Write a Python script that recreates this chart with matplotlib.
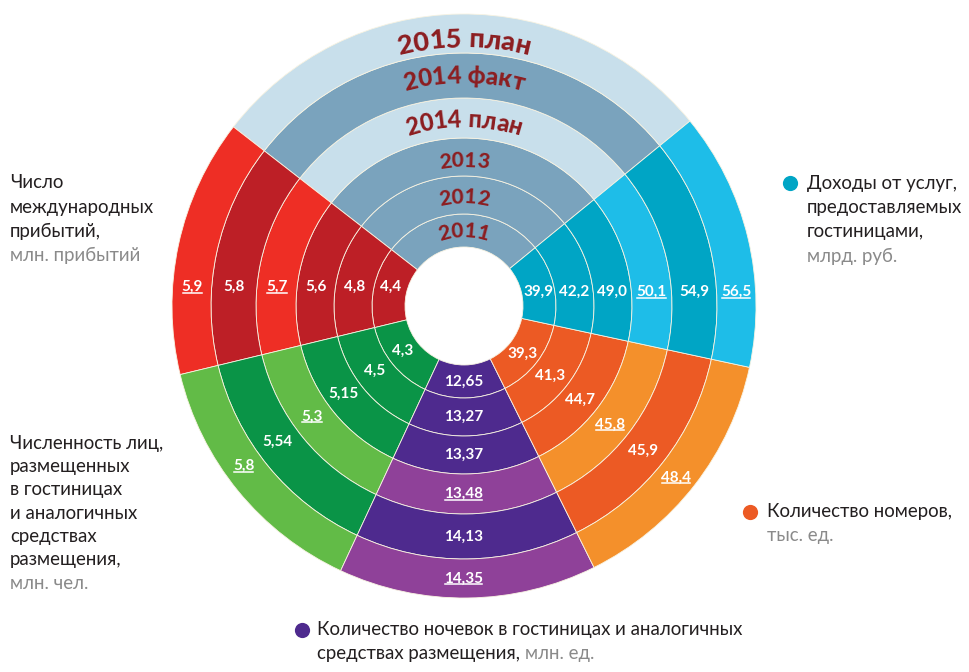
import numpy as np
import matplotlib
matplotlib.use("Agg")
import matplotlib.pyplot as plt

plt.rcParams['font.family'] = ['Lato', 'DejaVu Sans']

# data
years = ['2011', '2012', '2013', '2014 план', '2014 факт', '2015 план']
is_plan = [False, False, False, True, False, True]
arrivals = [4.4, 4.8, 5.6, 5.7, 5.8, 5.9]          # red
guests = [4.3, 4.5, 5.15, 5.3, 5.54, 5.8]          # green
nights = [12.65, 13.27, 13.37, 13.48, 14.13, 14.35]  # purple
rooms = [39.3, 41.3, 44.7, 45.8, 45.9, 48.4]       # orange
revenue = [39.9, 42.2, 49.0, 50.1, 54.9, 56.5]     # cyan

# sector order counterclockwise from the top block: years, red, green, purple, orange, cyan
shares = [2, 1, 1, 1, 1, 1]
dark = ['#7aa3bd', '#bd1f26', '#0a9447', '#4e2a8e', '#ec5a24', '#00a5c5']
light = ['#c8dfeb', '#ee2e25', '#62bb47', '#8f4199', '#f4902b', '#1ebde8']

W, H = 969, 672
cx, cy = 464, H - 306
radii = [59, 92, 130, 168, 208, 253, 292]
start = 39.3

fig = plt.figure(figsize=(W / 100, H / 100), dpi=100)
ax = fig.add_axes([0, 0, 1, 1])

for i in range(len(years)):
    cols = light if is_plan[i] else dark
    ax.pie(shares, radius=radii[i + 1], center=(cx, cy), startangle=start,
           colors=cols, counterclock=True,
           wedgeprops=dict(width=radii[i + 1] - radii[i], edgecolor='#f8f3e2', linewidth=0.6))

ax.set_xlim(0, W)
ax.set_ylim(0, H)
ax.set_aspect('equal')
ax.axis('off')


def fmt(v):
    return str(v).replace('.', ',')


under = []
mids = [(radii[i] + radii[i + 1]) / 2 for i in range(len(years))]

# values: red and cyan in horizontal rows, others along a radius
for i in range(len(years)):
    m = mids[i]
    kw = dict(color='white', fontsize=11, fontweight='bold', ha='center', va='center')
    pos = [
        (arrivals, cx - np.sqrt(m ** 2 - 19 ** 2), cy + 19),
        (revenue, cx + np.sqrt(m ** 2 - 14 ** 2), cy + 14),
    ]
    for ang, ser in [(216, guests), (270, nights), (321, rooms)]:
        a = np.radians(ang)
        pos.append((ser, cx + m * np.cos(a), cy + m * np.sin(a)))
    for ser, x, y in pos:
        t = ax.text(x, y, fmt(ser[i]), **kw)
        if is_plan[i]:
            under.append(t)

fig.canvas.draw()
r = fig.canvas.get_renderer()
for t in under:
    bb = t.get_window_extent(r)
    ax.plot([bb.x0 + 1, bb.x1 - 1], [bb.y0 + 1.5, bb.y0 + 1.5], color='white', lw=1.1)


# year labels bent along the rings
def width(s, size):
    t = ax.text(0, 0, s + 'x', fontsize=size, fontweight='black')
    t0 = ax.text(0, 0, 'x', fontsize=size, fontweight='black')
    w = t.get_window_extent(r).width - t0.get_window_extent(r).width
    t.remove()
    t0.remove()
    return w


base_r = [69, 103, 139, 179, 223, 259]
sizes = [15, 15, 15, 17, 17.5, 19.5]
for i, lab in enumerate(years):
    size = sizes[i]
    total = width(lab, size)
    rb = base_r[i]
    for k, ch in enumerate(lab):
        if ch == ' ':
            continue
        s0 = width(lab[:k], size) if k else 0
        s1 = width(lab[:k + 1], size)
        sc = (s0 + s1) / 2
        th = np.pi / 2 + (total / 2 - sc) / rb
        ax.text(cx + rb * np.cos(th), cy + rb * np.sin(th), ch, fontsize=size,
                fontweight='black', color='#8c1d20', ha='center', va='baseline',
                rotation=np.degrees(th) - 90, rotation_mode='anchor')

# side captions
black, grey = '#231f20', '#8a8a8a'
fs = 13.4
left1 = ['Число', 'международных', 'прибытий,']
for k, s in enumerate(left1):
    ax.text(10, H - 183 - 24 * k, s, fontsize=fs, color=black, va='center')
ax.text(10, H - 183 - 24 * 3, 'млн. прибытий', fontsize=fs, color=grey, va='center')

left2 = ['Численность лиц,', 'размещенных', 'в гостиницах', 'и аналогичных',
         'средствах', 'размещения,']
for k, s in enumerate(left2):
    ax.text(10, H - 443 - 23.4 * k, s, fontsize=fs, color=black, va='center')
ax.text(10, H - 443 - 23.4 * 6, 'млн. чел.', fontsize=fs, color=grey, va='center')

right1 = ['Доходы от услуг,', 'предоставляемых', 'гостиницами,']
ax.scatter([790], [H - 183], s=120, color=dark[5], linewidths=0)
for k, s in enumerate(right1):
    ax.text(807, H - 183 - 24.5 * k, s, fontsize=fs, color=black, va='center')
ax.text(807, H - 183 - 24.5 * 3, 'млрд. руб.', fontsize=fs, color=grey, va='center')

ax.scatter([750], [H - 512], s=120, color=dark[4], linewidths=0)
ax.text(767, H - 512, 'Количество номеров,', fontsize=fs, color=black, va='center')
ax.text(767, H - 536, 'тыс. ед.', fontsize=fs, color=grey, va='center')

ax.scatter([302], [H - 630], s=120, color=dark[3], linewidths=0)
ax.text(317, H - 630, 'Количество ночевок в гостиницах и аналогичных', fontsize=fs,
        color=black, va='center')
t = ax.text(317, H - 654, 'средствах размещения, ', fontsize=fs, color=black, va='center')
fig.canvas.draw()
bb = t.get_window_extent(fig.canvas.get_renderer())
ax.text(bb.x1, H - 654, 'млн. ед.', fontsize=fs, color=grey, va='center')

fig.savefig('out.png', dpi=100)
